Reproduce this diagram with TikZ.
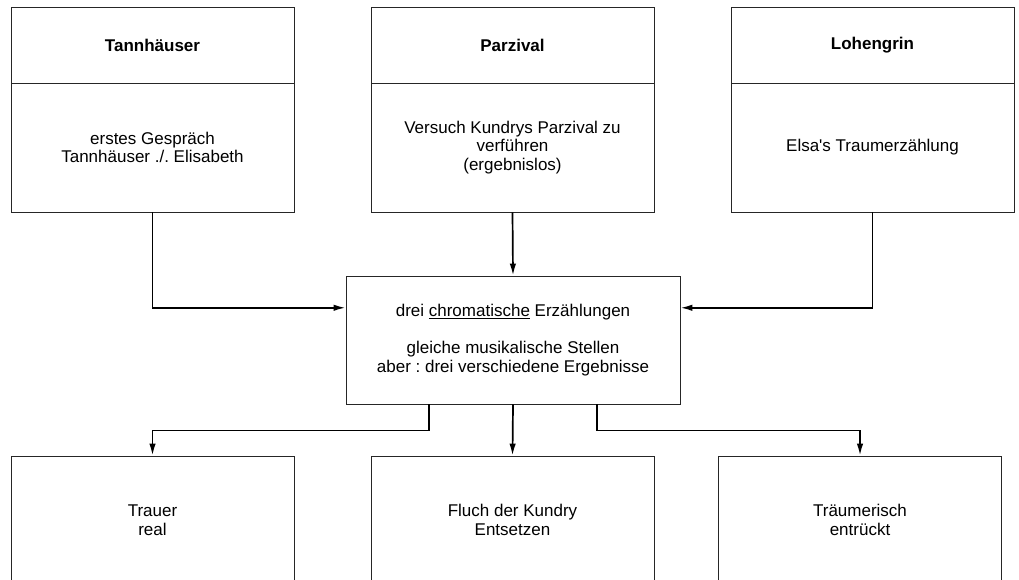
\documentclass[tikz,border=0pt]{standalone}
\usepackage{fontspec}
\setmainfont{Liberation Sans}
\usepackage{tikz}
\usetikzlibrary{arrows.meta,calc}
\frenchspacing

\newcommand{\boxfont}{\fontsize{17}{18.5}\selectfont}

\tikzset{
  box/.style={draw=black!85, line width=0.9pt, minimum width=283pt, align=center, inner sep=0pt, font=\boxfont},
  head/.style={box, minimum height=76pt, font=\boxfont\bfseries},
  body/.style={box, minimum height=129pt},
  arr/.style={line width=1.7pt, -{Latex[length=12pt,width=6.5pt]}}
}

\begin{document}
\begin{tikzpicture}[x=1pt, y=-1pt]
\useasboundingbox (0,0) rectangle (1019,580);
\clip (0,0) rectangle (1019,580);
% top row
\node [head] (tanH) at (152.5,45) {Tannh\"auser};
\node [body] (tanB) at (152.5,147.5) {erstes Gespr\"ach\\Tannh\"auser ./. Elisabeth};
\node [head] (parH) at (512.5,45) {Parzival};
\node [body] (parB) at (512.5,147.5) {Versuch Kundrys Parzival zu\\verf\"uhren\\(ergebnislos)};
\node [head] (lohH) at (872.5,45) {Lohengrin};
\node [body] (lohB) at (872.5,147.5) {Elsa\textquotesingle s Traumerz\"ahlung};
% middle
\node [box, minimum width=334pt, minimum height=128pt] (mid) at (513,340)
  {drei \underline{chromatische} Erz\"ahlungen\\[18.5pt]gleiche musikalische Stellen\\aber : drei verschiedene Ergebnisse};
% bottom row
\node [box, minimum height=128pt] (trauer) at (152.5,520) {Trauer\\real};
\node [box, minimum height=128pt] (fluch) at (512.5,520) {Fluch der Kundry\\Entsetzen};
\node [box, minimum height=128pt] (traum) at (860,520) {Tr\"aumerisch\\entr\"uckt};
% arrows in
\draw [arr] (tanB.south) |- ($(mid.north west)!0.25!(mid.south west)$);
\draw [arr] (parB.south) -- (mid.north);
\draw [arr] (lohB.south) |- ($(mid.north east)!0.25!(mid.south east)$);
% arrows out
\draw [arr] ($(mid.south west)!0.25!(mid.south east)$) -- ++(0,26) -| (trauer.north);
\draw [arr] (mid.south) -- (fluch.north);
\draw [arr] ($(mid.south west)!0.75!(mid.south east)$) -- ++(0,26) -| (traum.north);
\end{tikzpicture}
\end{document}
